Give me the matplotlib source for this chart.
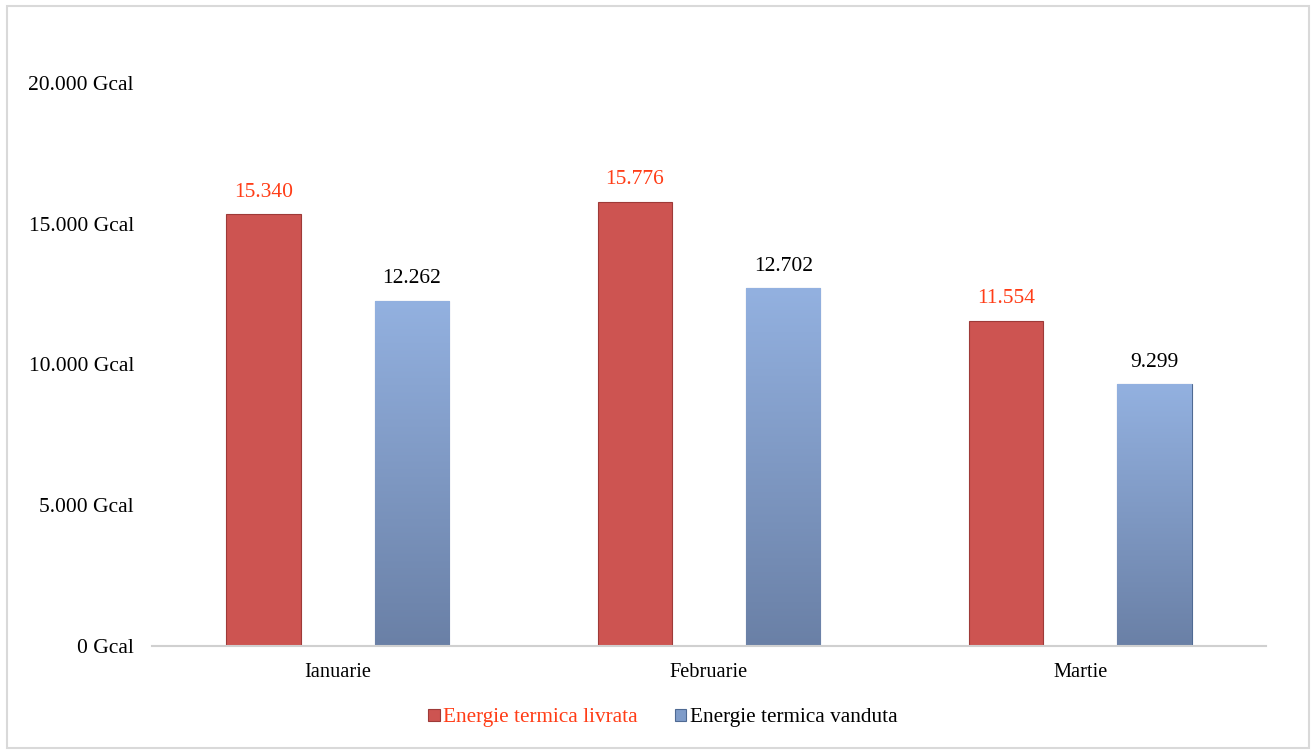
import numpy as np
import matplotlib.pyplot as plt
from matplotlib.patches import Rectangle
from matplotlib.colors import LinearSegmentedColormap

months = ["Ianuarie", "Februarie", "Martie"]
livrata = [15340, 15776, 11554]
vanduta = [12262, 12702, 9299]
labels_livrata = ["15.340", "15.776", "11.554"]
labels_vanduta = ["12.262", "12.702", "9.299"]
yticks = [0, 5000, 10000, 15000, 20000]
ytick_labels = ["0 Gcal", "5.000 Gcal", "10.000 Gcal", "15.000 Gcal", "20.000 Gcal"]

plt.rcParams['font.family'] = ['Liberation Serif', 'DejaVu Serif']

fig = plt.figure(figsize=(13.16, 7.51), dpi=100)
ax = fig.add_axes([0.1155, 0.1398, 0.8465, 0.7497])

# light grey border round the whole picture
fig.patches.append(Rectangle((0.005, 0.004), 0.990, 0.988, transform=fig.transFigure,
                             fill=False, edgecolor='#d9d9d9', linewidth=1.5))

x = np.arange(len(months))
w = 0.2
red_bars = ax.bar(x - 0.2, livrata, w, color='#cd5451', edgecolor='#9e3a38', linewidth=0.8,
                  label='Energie termica livrata', zorder=2)
blue_bars = ax.bar(x + 0.2, vanduta, w, color='#7f9cc9', edgecolor='#4f6a93', linewidth=0.8,
                   label='Energie termica vanduta', zorder=2)

# vertical gradient on the blue bars (light top, darker bottom)
grad = np.linspace(0, 1, 256).reshape(-1, 1)
cmap_b = LinearSegmentedColormap.from_list('b', ['#6a80a6', '#93b1e0'])
for b in blue_bars:
    bx, by = b.get_x(), b.get_y()
    bw, bh = b.get_width(), b.get_height()
    im = ax.imshow(grad, cmap=cmap_b, aspect='auto', origin='lower',
                   extent=(bx, bx + bw, by, by + bh), zorder=2.5)
    im.set_clip_path(b)

for b, t in zip(red_bars, labels_livrata):
    ax.text(b.get_x() + b.get_width() / 2, b.get_height() + 450, t, ha='center', va='bottom',
            fontsize=15.5, color='#ff3d17')
for b, t in zip(blue_bars, labels_vanduta):
    ax.text(b.get_x() + b.get_width() / 2, b.get_height() + 450, t, ha='center', va='bottom',
            fontsize=15.5, color='black')

ax.set_xlim(-0.5, 2.5)
ax.set_ylim(0, 20000)
ax.set_yticks(yticks)
ax.set_yticklabels(ytick_labels)
ax.set_xticks(x)
ax.set_xticklabels(months)
ax.tick_params(axis='both', length=0)
ax.tick_params(axis='y', pad=13, labelsize=15.5)
ax.tick_params(axis='x', pad=12, labelsize=14.7)
for s in ['top', 'right', 'left']:
    ax.spines[s].set_visible(False)
ax.spines['bottom'].set_color('#d0d0d0')
ax.spines['bottom'].set_linewidth(1.5)

leg = fig.legend(handles=[red_bars, blue_bars], loc='center', bbox_to_anchor=(0.5035, 0.044),
                 ncol=2, frameon=False, fontsize=15.3, handlelength=0.55, handleheight=0.55,
                 handletextpad=0.15, columnspacing=1.75)
leg.get_texts()[0].set_color('#ff3d17')

fig.savefig('out.png', dpi=100)
